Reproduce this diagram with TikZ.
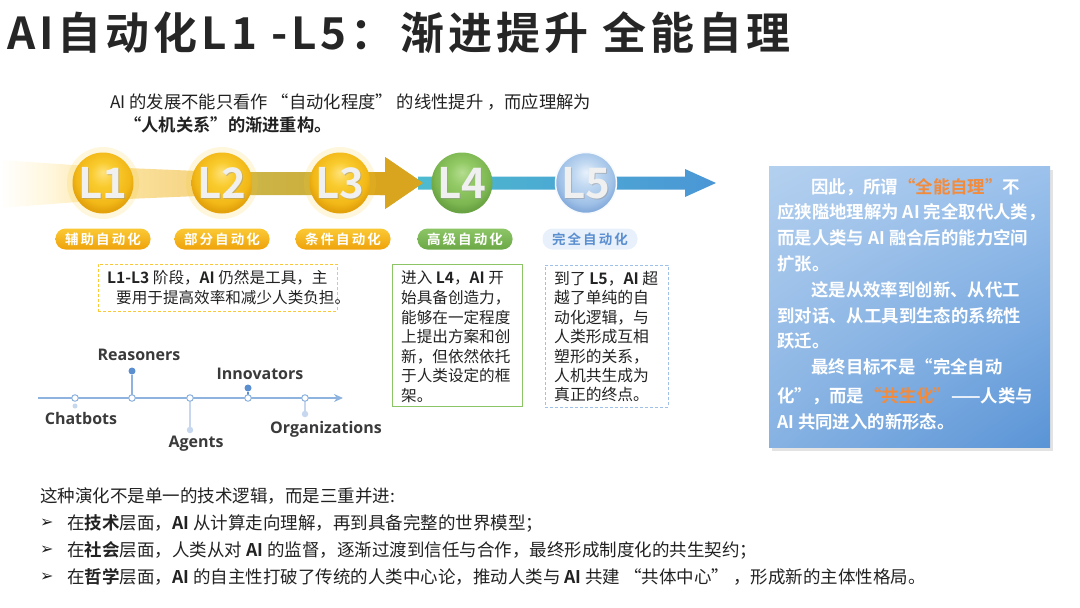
\documentclass[tikz,border=0pt]{standalone}
\usepackage{fontspec}
\setmainfont{Noto Sans CJK SC}[BoldFont={Noto Sans CJK SC Bold}]
\newfontfamily\ens{Open Sans}
\newfontfamily\sym{DejaVu Sans}
\newfontfamily\pillf{Noto Sans CJK SC Bold}[LetterSpace=15]
\newfontfamily\ttlf{Noto Sans CJK SC Bold}[LetterSpace=9]
\usetikzlibrary{arrows.meta,shadows,shadings}
\definecolor{txt}{HTML}{222222}
\definecolor{ttl}{HTML}{262626}
\definecolor{orng}{HTML}{F28B3C}
\definecolor{tlblue}{HTML}{8DB3DE}
\definecolor{tldark}{HTML}{5B8FD0}
\definecolor{tllight}{HTML}{C6D7EE}
\definecolor{lbl}{HTML}{3A3A3A}
\definecolor{bA}{HTML}{FFF6DC}
\definecolor{bB}{HTML}{FCE6A6}
\definecolor{bC}{HTML}{F6D585}
\definecolor{bD}{HTML}{CDB64C}
\definecolor{bE}{HTML}{CBAE3A}
\definecolor{bF}{HTML}{D9A41E}
\definecolor{tealL}{HTML}{4DBBCF}
\definecolor{tealR}{HTML}{4B96D6}
\definecolor{yA}{HTML}{FFE27A}
\definecolor{yB}{HTML}{F9CB2E}
\definecolor{yC}{HTML}{F2B817}
\definecolor{yD}{HTML}{E3A20C}
\definecolor{gA}{HTML}{B5DD90}
\definecolor{gB}{HTML}{93CA66}
\definecolor{gC}{HTML}{7DB752}
\definecolor{gD}{HTML}{69A343}
\definecolor{lA}{HTML}{E8F1FB}
\definecolor{lB}{HTML}{C0D8F1}
\definecolor{lC}{HTML}{A0C1E7}
\definecolor{lD}{HTML}{86ACDC}
\definecolor{pyT}{HTML}{FAC935}
\definecolor{pyB}{HTML}{EFA20B}
\definecolor{pgT}{HTML}{8CC566}
\definecolor{pgB}{HTML}{6BA846}
\definecolor{rbUL}{HTML}{B4D0EF}
\definecolor{rbUR}{HTML}{9CC2EC}
\definecolor{rbLL}{HTML}{86B2E3}
\definecolor{rbLR}{HTML}{5A94D6}
\pgfdeclarehorizontalshading{goldband}{100bp}{color(0bp)=(white); color(25bp)=(white); color(31bp)=(bA); color(37bp)=(bB); color(48bp)=(bC); color(52bp)=(bD); color(64bp)=(bE); color(69bp)=(bF); color(100bp)=(bF)}
\pgfdeclareradialshading{ballY}{\pgfpoint{0bp}{9bp}}{color(0bp)=(yA); color(10bp)=(yB); color(22bp)=(yC); color(27bp)=(yD); color(50bp)=(yD)}
\pgfdeclareradialshading{ballG}{\pgfpoint{0bp}{9bp}}{color(0bp)=(gA); color(10bp)=(gB); color(22bp)=(gC); color(27bp)=(gD); color(50bp)=(gD)}
\pgfdeclareradialshading{ballB}{\pgfpoint{0bp}{9bp}}{color(0bp)=(lA); color(10bp)=(lB); color(22bp)=(lC); color(27bp)=(lD); color(50bp)=(lD)}
\tikzset{
  lvl/.style={circle, minimum size=61pt, inner sep=0pt},
  lvltxt/.style={font=\fontsize{42}{42}\selectfont\bfseries, inner sep=0pt},
  pill/.style={rounded corners=10pt, minimum width=95pt, minimum height=21pt, inner sep=0pt, font=\fontsize{13.5}{14}\pillf, text=white},
  tbox/.style={align=left, anchor=north west, inner xsep=9pt, inner ysep=0pt},
  tdot/.style={circle, draw=tlblue, fill=white, line width=1pt, minimum size=6.5pt, inner sep=0pt},
  fdot/.style={circle, fill=tldark, minimum size=7pt, inner sep=0pt},
  ldot/.style={circle, fill=tllight, minimum size=6.5pt, inner sep=0pt},
  tlab/.style={font=\fontsize{16}{16}\ens\bfseries, text=lbl, inner sep=0pt},
  bline/.style={anchor=west, inner sep=0pt, text=txt, font=\fontsize{17.5}{18}\selectfont},
  bullet/.style={anchor=west, inner sep=0pt, text=txt, font=\fontsize{16}{16}\sym},
}
\begin{document}
\begin{tikzpicture}[x=1pt,y=-1pt]
\useasboundingbox (0,0) rectangle (1080,608);
% title
\node[anchor=west, inner sep=0pt, text=ttl, font=\fontsize{44}{46}\ttlf] (title) at (7,33) {AI自动化L1 -L5：\hspace{6pt}渐进提升\hspace{14pt}全能自理};
% subtitle
\node[anchor=north west, inner sep=0pt, align=left, text=txt, font=\fontsize{17.3}{23}\selectfont] (sub) at (110,94) {AI 的发展不能只看作 “自动化程度” 的线性提升 ，而应理解为\\\hspace*{14pt}\textbf{“人机关系”的渐进重构。}};
% bands
\shade[shading=goldband] (0,160) -- (103,167) -- (222,172) -- (385,172) -- (385,157) -- (423,183) -- (385,209) -- (385,195) -- (222,195) -- (103,200) -- (0,208) -- cycle;
\shade[left color=tealL, right color=tealR] (418,176.5) -- (685,176.5) -- (685,169) -- (716,183) -- (685,197) -- (685,189.5) -- (418,189.5) -- cycle;
\fill[bF] (380,172) -- (385,172) -- (385,157) -- (423,183) -- (385,209) -- (385,195) -- (380,195) -- cycle;
% glows
\foreach \cx in {103,222,340}{\fill[yB, opacity=.16] (\cx,183) circle (36);}
% level circles
\node[lvl, shading=ballY] (c1) at (103,183) {};
\node[lvl, shading=ballY] (c2) at (222,183) {};
\node[lvl, shading=ballY] (c3) at (340,183) {};
\node[lvl, shading=ballG] (c4) at (462,183) {};
\node[lvl, shading=ballB, draw=white!70!lA, line width=1.5pt] (c5) at (586,183) {};
\foreach \n/\t in {c1/L1,c2/L2,c3/L3,c4/L4,c5/L5}{
  \node[lvltxt, text=black!40, opacity=.5] at ([xshift=1.2pt,yshift=-1.2pt]\n.center) {\t};
  \node[lvltxt, text=black!6] at (\n.center) {\t};
}
% pills
\node[pill, top color=pyT, bottom color=pyB] (p1) at (103,239) {辅助自动化};
\node[pill, top color=pyT, bottom color=pyB] (p2) at (222,239) {部分自动化};
\node[pill, top color=pyT, bottom color=pyB] (p3) at (343,239) {条件自动化};
\node[pill, top color=pgT, bottom color=pgB] (p4) at (465,239) {高级自动化};
\node[pill, fill=lA, text=tldark] (p5) at (590,239) {完全自动化};
% text boxes
\node[draw=pyT, dash pattern=on 3pt off 2pt, line width=.8pt, minimum width=239pt, minimum height=47pt, anchor=north west, inner sep=0pt] (b1) at (98,264) {};
\node[tbox, font=\fontsize{15.6}{20}\selectfont, text=txt] (b1t) at ([yshift=-6.5pt]b1.north west) {\textbf{L1-L3} 阶段，\textbf{AI} 仍然是工具，主\\\hspace*{9pt}要用于提高效率和减少人类负担。};
\node[draw=pgT, line width=.9pt, minimum width=130pt, minimum height=142pt, anchor=north west, inner sep=0pt] (b2) at (392,264) {};
\node[tbox, font=\fontsize{15.6}{19.6}\selectfont, text=txt] (b2t) at ([yshift=-7pt]b2.north west) {进入 \textbf{L4}，\textbf{AI} 开\\始具备创造力，\\能够在一定程度\\上提出方案和创\\新，但依然依托\\于人类设定的框\\架。};
\node[draw=lC, dash pattern=on 3pt off 2pt, line width=.8pt, minimum width=123pt, minimum height=142pt, anchor=north west, inner sep=0pt] (b3) at (545,265) {};
\node[tbox, font=\fontsize{15.8}{19.4}\selectfont, text=txt] (b3t) at ([yshift=-6pt]b3.north west) {到了 \textbf{L5}，\textbf{AI} 超\\越了单纯的自\\动化逻辑，与\\人类形成互相\\塑形的关系，\\人机共生成为\\真正的终点。};
% timeline
\coordinate (tl0) at (38,398);
\coordinate (tl1) at (343,398);
\draw[tlblue, line width=1.6pt, -{Stealth[length=9pt,width=8pt]}] (tl0) -- (tl1);
\node[ldot, minimum size=5pt] (e1) at (75,406) {};
\node[fdot] (e2) at (132,371) {};
\node[ldot] (e3) at (190,430) {};
\node[fdot] (e4) at (248,388) {};
\node[ldot] (e5) at (305,414) {};
\coordinate (q1) at (75,398);
\coordinate (q2) at (132,398);
\coordinate (q3) at (190,398);
\coordinate (q4) at (248,398);
\coordinate (q5) at (305,398);
\draw[tlblue, line width=1.2pt] (q2) -- (e2);
\draw[tllight, line width=1.2pt] (q3) -- (e3);
\draw[tldark, line width=1.2pt] (q4) -- (e4);
\draw[tllight, line width=1.2pt] (q5) -- (e5);
\foreach \i in {1,...,5}{\node[tdot] (d\i) at (q\i) {};}
\node[tlab] (lr) at (139,355) {Reasoners};
\node[tlab] (li) at (260,374) {Innovators};
\node[tlab] (lc) at (81,418) {Chatbots};
\node[tlab] (la) at (196,444) {Agents};
\node[tlab] (lo) at (326,429) {Organizations};
% right box
\shade[upper left=rbUL, upper right=rbUR, lower left=rbLL, lower right=rbLR, drop shadow={shadow xshift=3pt, shadow yshift=-4pt, opacity=.22}] (769,166) rectangle (1050,447);
\node[draw=none, minimum width=281pt, minimum height=281pt, anchor=north west, inner sep=0pt] (rb) at (769,166) {};
\node[anchor=north west, inner sep=0pt, align=left, text=white, font=\fontsize{17.4}{25.8}\selectfont\bfseries] (rbt) at ([xshift=8pt,yshift=-12pt]rb.north west) {\hspace*{34pt}因此，所谓\textcolor{orng}{“全能自理”}不\\应狭隘地理解为 AI 完全取代人类，\\而是人类与 AI 融合后的能力空间\\扩张。\\\hspace*{34pt}这是从效率到创新、从代工\\到对话、从工具到生态的系统性\\跃迁。\\\hspace*{34pt}最终目标不是“完全自动\\[3pt]化”，而是\textcolor{orng}{“共生化”}——人类与\\AI 共同进入的新形态。};
% bottom text
\node[bline] (bt0) at (40,496) {这种演化不是单一的技术逻辑，而是三重并进:};
\node[bullet] (bu1) at (40,523) {➢};
\node[bullet] (bu2) at (40,550) {➢};
\node[bullet] (bu3) at (40,577) {➢};
\node[bline] (bt1) at (67,523) {在\textbf{技术}层面，\textbf{AI} 从计算走向理解，再到具备完整的世界模型；};
\node[bline] (bt2) at (67,550) {在\textbf{社会}层面，人类从对 \textbf{AI} 的监督，逐渐过渡到信任与合作，最终形成制度化的共生契约；};
\node[bline] (bt3) at (67,577) {在\textbf{哲学}层面，\textbf{AI} 的自主性打破了传统的人类中心论，推动人类与 \textbf{AI} 共建 “共体中心” ，形成新的主体性格局。};
\end{tikzpicture}
\end{document}
